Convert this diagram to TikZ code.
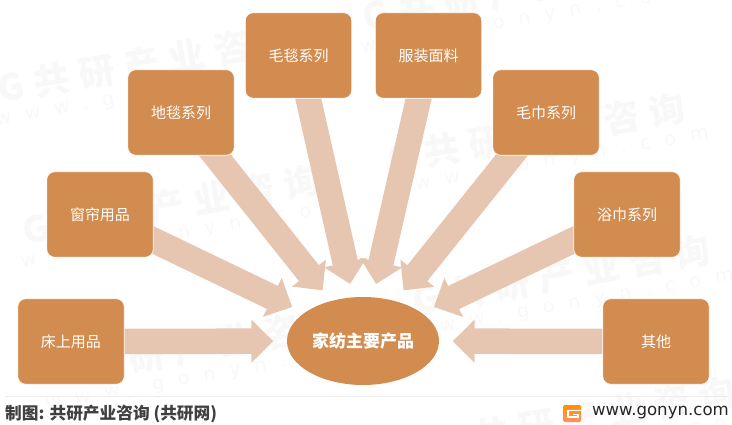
\documentclass[tikz,border=0pt]{standalone}
\usepackage{fontspec}
\setmainfont{Noto Sans CJK SC}
\newfontfamily\latinlogo{DejaVu Sans}
\newfontfamily\wmfontbig[LetterSpace=27]{Noto Sans CJK SC}
\newfontfamily\wmfontsmall[LetterSpace=75]{DejaVu Sans}
\usetikzlibrary{arrows.meta,backgrounds,shapes.geometric}
\definecolor{boxfill}{HTML}{D38C4F}
\definecolor{arrowfill}{HTML}{E6C5B1}
\definecolor{wmark}{HTML}{F8F8F8}
\pgfdeclarelayer{arrows}
\pgfsetlayers{background,arrows,main}
\tikzset{
  item/.style={draw=white,line width=.6pt,fill=boxfill,rounded corners=8pt,minimum width=106.5pt,minimum height=85.5pt,inner sep=0pt,text=white,font=\fontsize{15}{17}\selectfont},
  hub/.style={ellipse,fill=boxfill,minimum width=152pt,minimum height=88pt,inner sep=0pt,text=white,font=\fontsize{17}{19}\selectfont\bfseries},
  fat/.style={draw=arrowfill,line width=25.5pt,shorten >=13.5pt,-{Triangle[length=22pt,width=42pt,fill=arrowfill]}},
  wmbig/.style={text=wmark,font=\wmfontbig\fontsize{36}{38}\selectfont\bfseries,rotate=10,inner sep=0pt,anchor=west},
  wmsmall/.style={text=wmark,font=\wmfontsmall\fontsize{19}{21}\selectfont,rotate=10,inner sep=0pt,anchor=west},
}
\newcommand{\wmrow}[3]{%
  \node[wmbig] (#1a) at (#2-12,#3+2) {G共研产业咨询};
  \node[wmsmall] (#1b) at (#2-14,#3+35) {www.gonyn.com};
}
\begin{document}
\begin{tikzpicture}[x=1pt,y=-1pt]
\useasboundingbox (0,0) rectangle (732,425);
\begin{scope}[on background layer]
\clip (0,0) rectangle (732,425);
\wmrow{wa}{10}{87}
\wmrow{wb}{35}{229}
\wmrow{wc}{60}{371}
\wmrow{wd}{375}{15}
\wmrow{we}{400}{157}
\wmrow{wf}{425}{299}
\wmrow{wg}{450}{441}
\end{scope}
\node[item] (bed) at (71,341.5) {床上用品};
\node[item] (curtain) at (100,214.5) {窗帘用品};
\node[item] (carpet) at (181,112.5) {地毯系列};
\node[item] (blanket) at (298.5,55.5) {毛毯系列};
\node[item] (cloth) at (428.5,55.5) {服装面料};
\node[item] (towel) at (546,112.5) {毛巾系列};
\node[item] (bath) at (627,214.5) {浴巾系列};
\node[item] (other) at (656,341.5) {其他};
\node[hub] (main) at (363,341) {家纺主要产品};
\begin{pgfonlayer}{arrows}
\foreach \n in {bed,curtain,carpet,blanket,cloth,towel,bath,other}
  \draw[fat] (\n.center) -- (main);
\end{pgfonlayer}
\coordinate (ruleL) at (5,396);
\coordinate (ruleR) at (728,396);
\draw[draw=black!7,line width=.8pt] (ruleL) -- (ruleR);
\node[anchor=west,inner sep=0pt,text=black!75,font=\fontsize{16.7}{18}\selectfont\bfseries] (credit) at (5,414) {制图: 共研产业咨询 (共研网)};
\node[anchor=east,inner sep=0pt,text=black!85,font=\latinlogo\fontsize{16.6}{18}\selectfont] (site) at (729,413) {www.gonyn.com};
\shade[top color=orange!85!yellow,bottom color=red!45!orange!60,rounded corners=1.5pt] (563,405) rectangle (581,422);
\draw[white,line width=1.5pt] (581,410.5) -- (568,410.5) -- (568,417) -- (578,417) -- (578,414.3) -- (573,414.3);
\end{tikzpicture}
\end{document}
